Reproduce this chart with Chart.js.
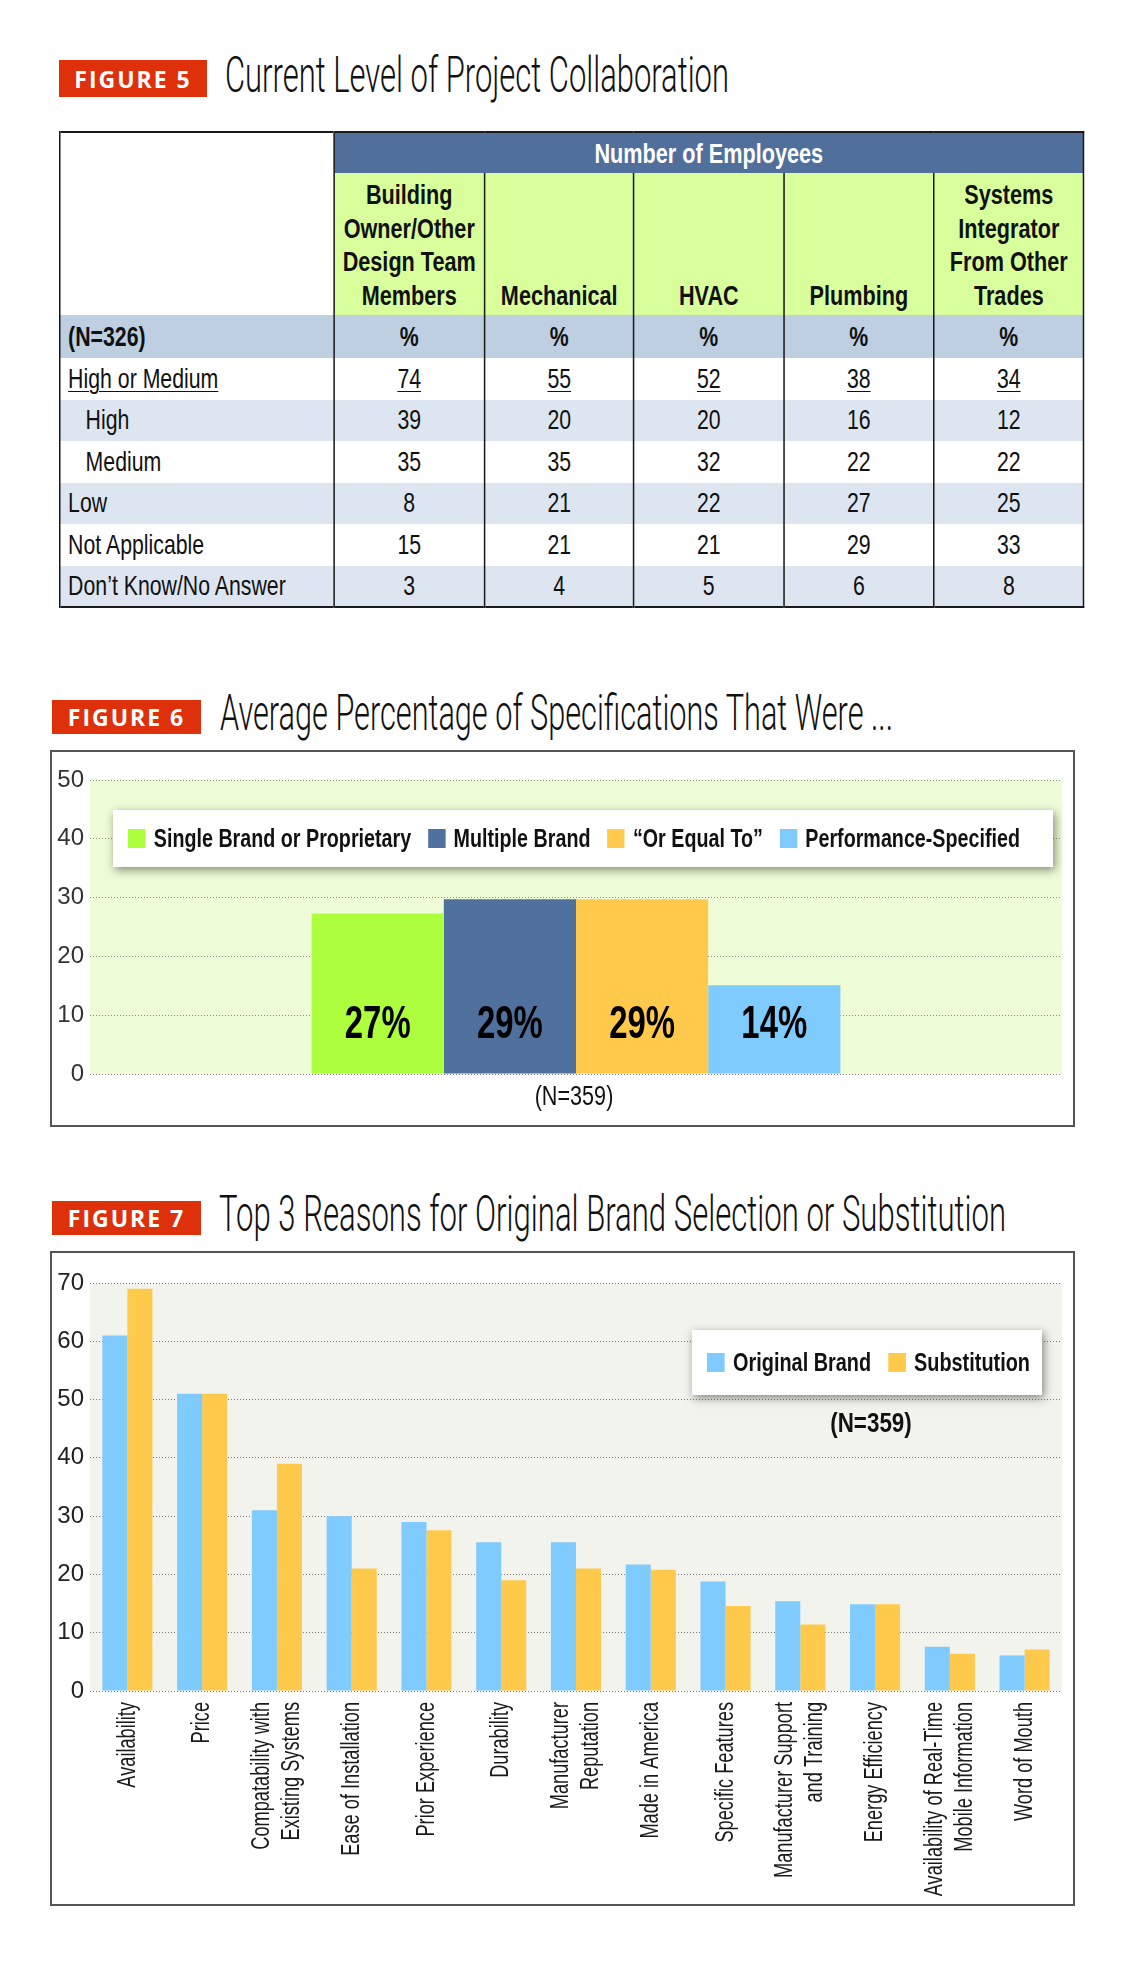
<!DOCTYPE html>
<html>
<head>
<meta charset="utf-8">
<script src="https://cdn.jsdelivr.net/npm/chart.js@4.4.1/dist/chart.umd.min.js"></script>
<style>
  body { margin:0; background:#fff; width:1127px; height:1969px; position:relative; overflow:hidden;
         font-family:"Liberation Sans",Arial,sans-serif; color:#111; }
  .badge { position:absolute; background:#df300c; color:#fff; font-family:"Open Sans",sans-serif; font-weight:700;
           font-size:23px; letter-spacing:2px; display:flex; align-items:center; justify-content:center; }
  .title { position:absolute; font-family:Roboto,sans-serif; font-weight:300; font-size:50px; line-height:59px;
           white-space:nowrap; transform-origin:left center; color:#111; }
  #tbl { position:absolute; left:59px; top:131px; height:475px; border-collapse:collapse;
         table-layout:fixed; border:2px solid #1a1a1a; transform-origin:0 0; }
  #tbl td { padding:0; font-size:28px; text-align:center; vertical-align:middle; border-left:2px solid #1a1a1a;
            line-height:1; white-space:nowrap; }
  #tbl td.lab { text-align:left; padding-left:10px; }
  #tbl td.ind { padding-left:33px; }
  #tbl .band { background:#50709b; color:#fff; font-weight:700; font-size:28.5px; }
  #tbl .grn { background:#d9ff9c; font-weight:700; font-size:28.5px; line-height:33.5px; vertical-align:bottom; padding-bottom:3px; }
  #tbl tr.n td { background:#bfcfe2; font-weight:700; }
  #tbl tr.lt td { background:#dde6f0; }
  #tbl tr.u span { text-decoration:underline; text-underline-offset:3px; text-decoration-thickness:1px; }
  .frame { position:absolute; border:2px solid #555; background:#fff; }
  .frame canvas { position:absolute; left:0; top:0; }
  .legend { position:absolute; background:#fff; box-shadow:2px 3px 9px rgba(40,45,30,0.55); }
  .legend .lin { position:absolute; left:15px; top:0; height:100%; display:flex; align-items:center;
                 font-weight:700; font-size:26px; white-space:nowrap; transform-origin:left center; }
  .legend .sq { display:inline-block; width:23px; height:19px; margin-right:11px; }
  .legend .it { display:flex; align-items:center; margin-right:22px; }
  .legend .it:last-child { margin-right:0; }
  .note { position:absolute; font-size:27px; white-space:nowrap; transform:translate(-50%,-50%) scaleX(0.8); }
</style>
</head>
<body>

<div class="badge" style="left:59px;top:60px;width:148px;height:37px;">FIGURE 5</div>
<div class="title" data-w="504" style="left:225px;top:46px;">Current Level of Project Collaboration</div>
<table id="tbl"></table>

<div class="badge" style="left:52px;top:700px;width:149px;height:34px;">FIGURE 6</div>
<div class="title" data-w="673" style="left:220px;top:684px;">Average Percentage of Specifications That Were ...</div>
<div class="frame" style="left:50px;top:750px;width:1021px;height:373px;">
  <canvas id="specChart" width="1021" height="373"></canvas>
</div>
<div class="legend" style="left:113px;top:810px;width:940px;height:57px;"><div class="lin" id="specLegend" data-w="892"></div></div>
<div class="note" style="left:574px;top:1096px;">(N=359)</div>

<div class="badge" style="left:52px;top:1201px;width:149px;height:34px;">FIGURE 7</div>
<div class="title" data-w="787" style="left:219px;top:1185px;">Top 3 Reasons for Original Brand Selection or Substitution</div>
<div class="frame" style="left:50px;top:1251px;width:1021px;height:651px;">
  <canvas id="reasonChart" width="1021" height="651"></canvas>
</div>
<div class="legend" style="left:692px;top:1330px;width:350px;height:65px;"><div class="lin" id="reasonLegend" data-w="323"></div></div>
<div class="note" style="left:871px;top:1423px;font-weight:700;font-size:28px;">(N=359)</div>

<script>
const SANS = '"Liberation Sans", Arial, sans-serif';
const SQUEEZE = 0.76; // stand-in for the condensed face of the original

// Figure 5 table
const tableHeader = 'Number of Employees';
const tableColumns = [['Building', 'Owner/Other', 'Design Team', 'Members'], ['Mechanical'], ['HVAC'], ['Plumbing'],
                      ['Systems', 'Integrator', 'From Other', 'Trades']];
const tableBase = '(N=326)';
const tableRows = ['High or Medium', 'High', 'Medium', 'Low', 'Not Applicable', 'Don’t Know/No Answer'];
const colBuilding = [74, 39, 35, 8, 15, 3];
const colMechanical = [55, 20, 35, 21, 21, 4];
const colHVAC = [52, 20, 32, 22, 21, 5];
const colPlumbing = [38, 16, 22, 27, 29, 6];
const colSystems = [34, 12, 22, 25, 33, 8];

// Figure 6
const specCategories = ['Single Brand or Proprietary', 'Multiple Brand', '“Or Equal To”', 'Performance-Specified'];
const specValues = [27.3, 29.7, 29.7, 15.1];
const specLabels = ['27%', '29%', '29%', '14%'];
const specColors = ['#adff3d', '#50719e', '#ffca4c', '#80cbfe'];

// Figure 7
const reasonLabels = [['Availability'], ['Price'], ['Compatability with', 'Existing Systems'], ['Ease of Installation'],
  ['Prior Experience'], ['Durability'], ['Manufacturer', 'Reputation'], ['Made in America'], ['Specific Features'],
  ['Manufacturer Support', 'and Training'], ['Energy Efficiency'], ['Availability of Real-Time', 'Mobile Information'],
  ['Word of Mouth']];
const originalBrand = [61, 51, 31, 30, 29, 25.5, 25.5, 21.7, 18.8, 15.4, 14.9, 7.6, 6.1];
const substitution = [69, 51, 39, 21, 27.6, 19, 21, 20.8, 14.6, 11.4, 14.9, 6.4, 7.1];
const reasonSeries = ['Original Brand', 'Substitution'];
const reasonColors = ['#80cbfe', '#ffca4c'];

// ---------- table ----------
(function buildTable() {
  const cols = [colBuilding, colMechanical, colHVAC, colPlumbing, colSystems];
  const widths = [274, 151, 149, 150, 150, 150].map(w => w / SQUEEZE);
  const tbl = document.getElementById('tbl');
  tbl.style.width = widths.reduce((a, b) => a + b, 0).toFixed(1) + 'px';
  tbl.style.transform = 'scaleX(' + SQUEEZE + ')';
  let h = '<colgroup>' + widths.map(w => '<col style="width:' + w.toFixed(1) + 'px">').join('') + '</colgroup>';
  h += '<tr style="height:41px"><td rowspan="2" style="background:#fff"></td><td colspan="5" class="band">' + tableHeader + '</td></tr>';
  h += '<tr style="height:142px">' + tableColumns.map(c => '<td class="grn">' + c.join('<br>') + '</td>').join('') + '</tr>';
  h += '<tr class="n" style="height:43px"><td class="lab">' + tableBase + '</td>' + cols.map(() => '<td>%</td>').join('') + '</tr>';
  tableRows.forEach((r, i) => {
    const cls = (i % 2 ? 'lt' : '') + (i === 0 ? ' u' : '');
    const indent = (r === 'High' || r === 'Medium') ? ' ind' : '';
    h += '<tr class="' + cls + '" style="height:41.5px"><td class="lab' + indent + '"><span>' + r + '</span></td>' +
         cols.map(c => '<td><span>' + c[i] + '</span></td>').join('') + '</tr>';
  });
  tbl.innerHTML = h;
})();

function buildLegend(id, names, colors) {
  document.getElementById(id).innerHTML = names.map((n, i) =>
    '<span class="it"><span class="sq" style="background:' + colors[i] + '"></span>' + n + '</span>').join('');
}
buildLegend('specLegend', specCategories, specColors);
buildLegend('reasonLegend', reasonSeries, reasonColors);

// squeeze titles and legends to the widths they take in the original
document.querySelectorAll('[data-w]').forEach(el => {
  const w = el.getBoundingClientRect().width;
  el.style.transform = 'scaleX(' + (el.dataset.w / w) + ')';
});

const plotBg = {
  id: 'plotBg',
  beforeDraw(chart, args, opts) {
    const a = chart.chartArea, ctx = chart.ctx;
    ctx.save();
    ctx.fillStyle = opts.color;
    ctx.fillRect(a.left, a.top, a.right - a.left, a.bottom - a.top);
    ctx.restore();
  }
};

// ---------- Figure 6 ----------
const LABEL_LEVEL = 8.7;
new Chart(document.getElementById('specChart'), {
  type: 'bar',
  data: {
    labels: [''],
    datasets: specCategories.map((c, i) => ({
      label: c, data: [specValues[i]], backgroundColor: specColors[i],
      borderWidth: 0, categoryPercentage: 0.544, barPercentage: 1
    }))
  },
  options: {
    responsive: false, animation: false, devicePixelRatio: 1,
    layout: { padding: { top: 28, right: 11, bottom: 51, left: 0 } },
    plugins: { legend: { display: false }, tooltip: { enabled: false }, plotBg: { color: '#eefcd8' } },
    scales: {
      x: { display: false },
      y: {
        min: 0, max: 50,
        ticks: { stepSize: 10, color: '#333', font: { family: SANS, size: 24 }, padding: 6 },
        grid: { color: '#8a8a8a', lineWidth: 1, drawTicks: false },
        border: { display: false, dash: [1, 2] },
        afterFit: s => { s.width = 38; }
      }
    }
  },
  plugins: [plotBg, {
    id: 'barText',
    afterDatasetsDraw(chart) {
      const ctx = chart.ctx, y = chart.scales.y.getPixelForValue(LABEL_LEVEL);
      ctx.save();
      ctx.font = 'bold 47px ' + SANS;
      ctx.fillStyle = '#000';
      ctx.textAlign = 'center';
      ctx.textBaseline = 'middle';
      chart.data.datasets.forEach((d, i) => {
        const bar = chart.getDatasetMeta(i).data[0];
        ctx.save();
        ctx.translate(bar.x, y);
        ctx.scale(0.7, 1);
        ctx.fillText(specLabels[i], 0, 2);
        ctx.restore();
      });
      ctx.restore();
    }
  }]
});

// ---------- Figure 7 ----------
new Chart(document.getElementById('reasonChart'), {
  type: 'bar',
  data: {
    labels: reasonLabels,
    datasets: [
      { label: reasonSeries[0], data: originalBrand, backgroundColor: reasonColors[0], borderWidth: 0,
        categoryPercentage: 0.67, barPercentage: 1 },
      { label: reasonSeries[1], data: substitution, backgroundColor: reasonColors[1], borderWidth: 0,
        categoryPercentage: 0.67, barPercentage: 1 }
    ]
  },
  options: {
    responsive: false, animation: false, devicePixelRatio: 1,
    layout: { padding: { top: 30, right: 11, bottom: 0, left: 0 } },
    plugins: { legend: { display: false }, tooltip: { enabled: false }, plotBg: { color: '#f3f3ee' } },
    scales: {
      x: {
        grid: { display: false }, border: { display: false }, ticks: { display: false },
        afterFit: s => { s.height = 213; }
      },
      y: {
        min: 0, max: 70,
        ticks: { stepSize: 10, color: '#222', font: { family: SANS, size: 24 }, padding: 6 },
        grid: { color: '#7a7a7a', lineWidth: 1, drawTicks: false },
        border: { display: false, dash: [1, 2] },
        afterFit: s => { s.width = 38; }
      }
    }
  },
  plugins: [plotBg, {
    id: 'rotLabels',
    afterDraw(chart) {
      const ctx = chart.ctx, xs = chart.scales.x, top = chart.chartArea.bottom + 11, lh = 30;
      ctx.save();
      ctx.font = '26px ' + SANS;
      ctx.fillStyle = '#1a1a1a';
      ctx.textAlign = 'right';
      ctx.textBaseline = 'middle';
      reasonLabels.forEach((lines, i) => {
        const x = xs.getPixelForTick(i);
        lines.forEach((line, j) => {
          ctx.save();
          ctx.translate(x + (j - (lines.length - 1) / 2) * lh, top);
          ctx.rotate(-Math.PI / 2);
          ctx.scale(0.7, 1);
          ctx.fillText(line, 0, 0);
          ctx.restore();
        });
      });
      ctx.restore();
    }
  }]
});
</script>
</body>
</html>
